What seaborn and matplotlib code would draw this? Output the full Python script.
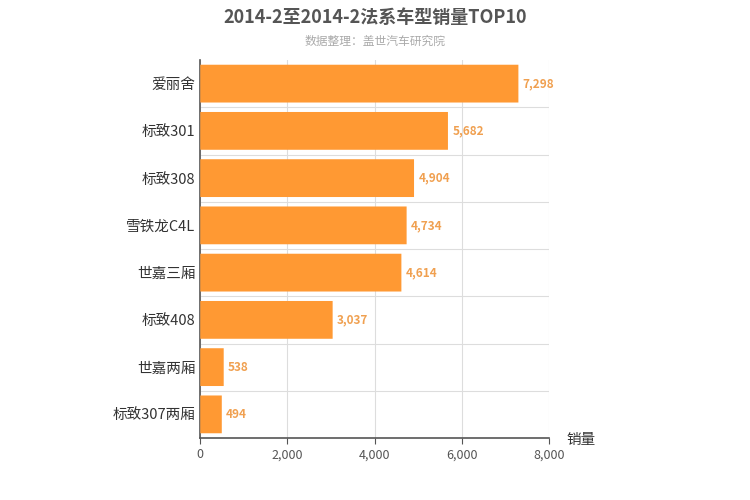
import matplotlib
matplotlib.use("Agg")
import matplotlib.pyplot as plt
import seaborn as sns
import pandas as pd
from matplotlib.patches import FancyBboxPatch

plt.rcParams["font.family"] = ["Noto Sans CJK SC", "DejaVu Sans"]

categories = ["爱丽舍", "标致301", "标致308", "雪铁龙C4L", "世嘉三厢", "标致408", "世嘉两厢", "标致307两厢"]
values = [7298, 5682, 4904, 4734, 4614, 3037, 538, 494]
df = pd.DataFrame({"车型": categories, "销量": values})

fig = plt.figure(figsize=(7.5, 5), dpi=100)
ax = fig.add_axes([0.267, 0.124, 0.465, 0.756])
sns.barplot(data=df, x="销量", y="车型", color="#ff9933", width=0.8, ax=ax, saturation=1)

for p in list(ax.patches):
    x, y, w, h = p.get_x(), p.get_y(), p.get_width(), p.get_height()
    p.remove()
    ax.add_patch(FancyBboxPatch((x, y), w, h, boxstyle="round,pad=0,rounding_size=0.12",
                                mutation_aspect=1, facecolor="#ff9933", edgecolor="none", zorder=3))
    # use data-space rounding
for i, v in enumerate(values):
    ax.text(v + 100, i, f"{v:,}", va="center", ha="left", fontsize=8.5,
            color="#f0a050", fontweight="bold")

ax.set_xlim(0, 8000)
ax.set_ylim(len(categories) - 0.5, -0.5)
ax.set_xticks([0, 2000, 4000, 6000, 8000])
ax.set_xticklabels(["0", "2,000", "4,000", "6,000", "8,000"], fontsize=9, color="#555555")
ax.tick_params(axis="y", labelsize=10.5, colors="#333333", length=0)
ax.tick_params(axis="x", length=4, color="#555555")
ax.set_ylabel("")
ax.set_xlabel("")
ax.grid(axis="x", color="#dddddd", lw=0.8, zorder=0)
for b in range(len(categories) - 1):
    ax.axhline(b + 0.5, color="#dddddd", lw=0.8, zorder=0)
ax.set_axisbelow(True)
for s in ["top", "right"]:
    ax.spines[s].set_visible(False)
ax.spines["left"].set_color("#555555")
ax.spines["bottom"].set_color("#555555")
ax.spines["left"].set_linewidth(1.2)
ax.spines["bottom"].set_linewidth(1.2)

fig.text(0.5, 0.965, "2014-2至2014-2法系车型销量TOP10", ha="center", va="center",
         fontsize=13, fontweight="bold", color="#555555")
fig.text(0.5, 0.918, "数据整理：盖世汽车研究院", ha="center", va="center", fontsize=8.5, color="#aaaaaa")
fig.text(0.755, 0.12, "销量", ha="left", va="center", fontsize=10.5, color="#333333")

fig.savefig("out.png", dpi=100)
